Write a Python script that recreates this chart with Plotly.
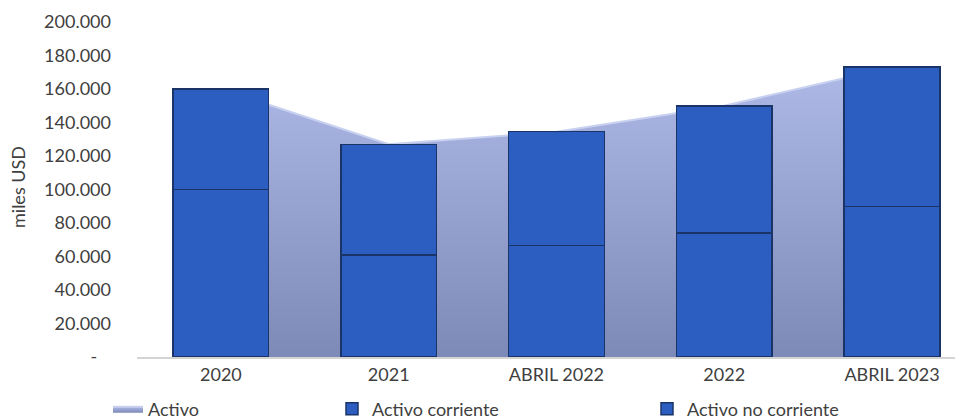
import plotly.graph_objects as go

categories = ["2020", "2021", "ABRIL 2022", "2022", "ABRIL 2023"]
activo_corriente = [100000, 61000, 66500, 74000, 90000]
activo_no_corriente = [60000, 66000, 68000, 76000, 83000]
activo = [a + b for a, b in zip(activo_corriente, activo_no_corriente)]

y_tickvals = [0, 20000, 40000, 60000, 80000, 100000, 120000, 140000, 160000, 180000, 200000]
y_ticktext = ["-\u00a0\u00a0\u00a0", "20.000", "40.000", "60.000", "80.000", "100.000",
              "120.000", "140.000", "160.000", "180.000", "200.000"]

FONT = "Lato"
TXT = "#404040"
BAR = "#2b5ec0"
EDGE = "#1b3468"
# page body has an 8px margin, so the figure is sized to fit the 963x419 window
W, H = 955, 411
ML, MR, MT, MB = 129, 0, 14, 62

fig = go.Figure()

# Area (total) on the base axes so that bars on overlay axes draw above it
fig.add_trace(go.Scatter(
    x=categories, y=activo, name="Activo", mode="lines",
    line=dict(color="#c9d1f0", width=2),
    fill="tozeroy",
    fillgradient=dict(type="vertical",
                      colorscale=[[0, "#7d89b6"], [1, "#aeb9e8"]]),
    xaxis="x", yaxis="y", legend="legend", showlegend=True,
))

fig.add_trace(go.Bar(
    x=categories, y=activo_corriente, name="Activo corriente",
    marker=dict(color=BAR, line=dict(color=EDGE, width=1.5)),
    width=0.57, xaxis="x2", yaxis="y2", legend="legend2",
))
fig.add_trace(go.Bar(
    x=categories, y=activo_no_corriente, name="Activo no corriente",
    marker=dict(color=BAR, line=dict(color=EDGE, width=1.5)),
    width=0.57, xaxis="x2", yaxis="y2", legend="legend3",
))

xr = [-0.5, 4.423]
yr = [0, 200000]

legend_common = dict(orientation="h", xref="container", yref="container",
                     yanchor="middle", xanchor="left", bgcolor="rgba(0,0,0,0)",
                     font=dict(family=FONT, size=18, color=TXT),
                     itemwidth=30)

plot_w = W - ML - MR
plot_h = H - MT - MB

fig.update_layout(
    width=W, height=H,
    margin=dict(l=ML, r=MR, t=MT, b=MB, autoexpand=False),
    paper_bgcolor="white", plot_bgcolor="white",
    barmode="stack",
    font=dict(family=FONT, size=18, color=TXT),
    xaxis=dict(type="category", categoryorder="array", categoryarray=categories,
               range=xr, showline=True, linecolor="#d4d4d4", linewidth=2,
               showgrid=False, zeroline=False, ticks="",
               tickfont=dict(family=FONT, size=18, color=TXT)),
    xaxis2=dict(type="category", categoryorder="array", categoryarray=categories,
                range=xr, overlaying="x", showticklabels=False, showgrid=False,
                zeroline=False, showline=False),
    yaxis=dict(range=yr, tickvals=y_tickvals, ticktext=y_ticktext, showgrid=False,
               zeroline=False, showline=False, ticks="", ticklabelstandoff=25,
               tickfont=dict(family=FONT, size=18, color=TXT)),
    yaxis2=dict(range=yr, overlaying="y", showticklabels=False, showgrid=False,
                zeroline=False, showline=False),
    legend=dict(x=100 / W, y=10 / H, **legend_common),
    legend2=dict(x=324 / W, y=10 / H, **legend_common),
    legend3=dict(x=639 / W, y=10 / H, **legend_common),
    annotations=[dict(
        text="miles USD", textangle=-90, showarrow=False,
        xref="paper", yref="paper",
        x=(10 - ML) / plot_w, y=(H - MB - 179) / plot_h,
        xanchor="center", yanchor="middle",
        font=dict(family=FONT, size=18, color=TXT),
    )],
)

fig.write_html("out.html")
